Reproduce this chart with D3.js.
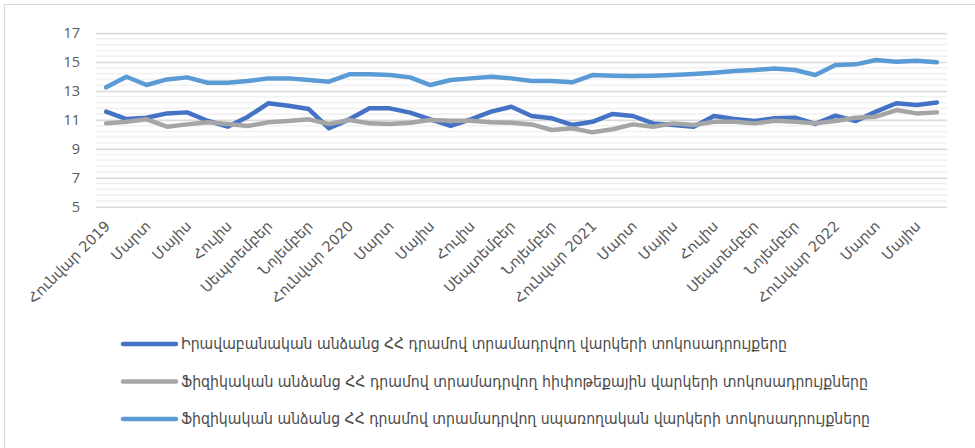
<!DOCTYPE html>
<html><head><meta charset="utf-8">
<script src="https://cdn.jsdelivr.net/npm/d3@7"></script>
<style>
html,body{margin:0;padding:0;background:#fff;}
svg{display:block;}
text{font-family:"DejaVu Sans","Noto Sans",sans-serif;}
</style></head>
<body>
<svg id="c" width="975" height="448"></svg>
<script>
const months = ["Հունվար","Փետրվար","Մարտ","Ապրիլ","Մայիս","Հունիս","Հուլիս","Օգոստոս","Սեպտեմբեր","Հոկտեմբեր","Նոյեմբեր","Դեկտեմբեր"];
const years = [2019,2020,2021,2022];
const categories = [];
years.forEach(y => months.forEach((m,i) => { if (y < 2022 || i < 6) categories.push(i === 0 ? m + " " + y : m); }));

const seriesNames = [
  "Իրավաբանական անձանց ՀՀ դրամով տրամադրվող վարկերի տոկոսադրույքերը",
  "Ֆիզիկական անձանց ՀՀ դրամով տրամադրվող հիփոթեքային վարկերի տոկոսադրույքները",
  "Ֆիզիկական անձանց ՀՀ դրամով տրամադրվող սպառողական վարկերի տոկոսադրույքները"
];
const legalEntities = [11.57,11.06,11.15,11.45,11.52,10.94,10.53,11.22,12.15,11.98,11.75,10.42,11.04,11.8,
  11.8,11.5,11.04,10.58,11.04,11.57,11.91,11.27,11.11,10.65,10.87,11.41,11.27,10.76,
  10.65,10.53,11.27,11.06,10.92,11.11,11.15,10.72,11.29,10.92,11.57,12.15,12.03,12.21];
const mortgage = [10.76,10.87,11.04,10.53,10.69,10.83,10.72,10.58,10.83,10.92,11.04,10.72,10.99,10.76,
  10.72,10.81,10.99,10.94,10.94,10.83,10.81,10.69,10.3,10.42,10.14,10.35,10.69,10.53,
  10.76,10.65,10.87,10.87,10.76,10.94,10.87,10.76,10.92,11.15,11.22,11.68,11.45,11.52];
const consumer = [13.25,13.98,13.41,13.8,13.94,13.57,13.57,13.69,13.87,13.87,13.76,13.64,14.15,14.15,
  14.1,13.94,13.41,13.76,13.87,13.98,13.87,13.69,13.69,13.6,14.1,14.05,14.03,14.05,
  14.1,14.17,14.26,14.38,14.45,14.56,14.45,14.1,14.79,14.84,15.14,15.02,15.09,14.98];
const yTicks = [5,7,9,11,13,15,17];
const colors = ["#4472C4","#A5A5A5","#5B9BD5"];
const seriesValues = [legalEntities, mortgage, consumer];

const svg = d3.select("#c");
// chart border (partially visible)
svg.append("rect").attr("x",4.5).attr("y",4.5).attr("width",1200).attr("height",800)
  .attr("fill","none").attr("stroke","#d9d9d9").attr("stroke-width",1);

const idx = d3.range(categories.length);
const x = d3.scaleBand().domain(idx).range([96,947]);
const y = d3.scaleLinear().domain([5,17]).range([206.7,33.1]);

// minor gridlines
const minor = d3.range(5,17.0001,0.4).filter(v => Math.abs((v-5)/2 - Math.round((v-5)/2)) > 0.01);
svg.append("g").selectAll("line").data(minor).join("line")
  .attr("x1",96).attr("x2",947).attr("y1",d=>y(d)).attr("y2",d=>y(d))
  .attr("stroke","#f2f2f2").attr("stroke-width",1.6);
// major gridlines
const yAxis = svg.append("g").attr("transform","translate(96,0)")
  .call(d3.axisLeft(y).tickValues(yTicks).tickSize(-851).tickFormat(d3.format("d")));
yAxis.select(".domain").remove();
yAxis.selectAll(".tick line").attr("stroke","#d9d9d9").attr("stroke-width",1.6);
yAxis.selectAll(".tick text").attr("x",-16).attr("fill","#595959")
  .style("font-family","'Open Sans','DejaVu Sans',sans-serif").style("font-size","14.5px");

// x axis labels (every other)
const xAxis = svg.append("g").attr("transform","translate(0,207)")
  .call(d3.axisBottom(x).tickValues(idx.filter(i=>i%2===0)).tickSize(0).tickFormat(i=>categories[i]));
xAxis.select(".domain").remove();
xAxis.selectAll(".tick text")
  .attr("fill","#595959").style("font-size","14.5px")
  .attr("text-anchor","end").attr("x",0).attr("y",0).attr("dy","0")
  .attr("transform","translate(5,20) rotate(-45)");

// lines
const line = d3.line().x((d,i)=>x(i) + x.bandwidth()/2).y(d=>y(d));
seriesValues.forEach((vals,k) => {
  svg.append("path").datum(vals).attr("d",line).attr("fill","none")
    .attr("stroke",colors[k]).attr("stroke-width",4.5)
    .attr("stroke-linejoin","round").attr("stroke-linecap","round");
});

// legend
const legY = [344,381.5,419];
const legEnd = [787,868,870];
seriesNames.forEach((name,k) => {
  const g = svg.append("g");
  g.append("line").attr("x1",123).attr("x2",176).attr("y1",legY[k]).attr("y2",legY[k])
    .attr("stroke",colors[k]).attr("stroke-width",4.5).attr("stroke-linecap","round");
  g.append("text").attr("x",181).attr("y",legY[k]).attr("dy","0.35em")
    .attr("fill","#4a4a4a").style("font-size","15px")
    .attr("textLength",legEnd[k]-181).attr("lengthAdjust","spacingAndGlyphs")
    .text(name);
});
</script>
</body></html>
